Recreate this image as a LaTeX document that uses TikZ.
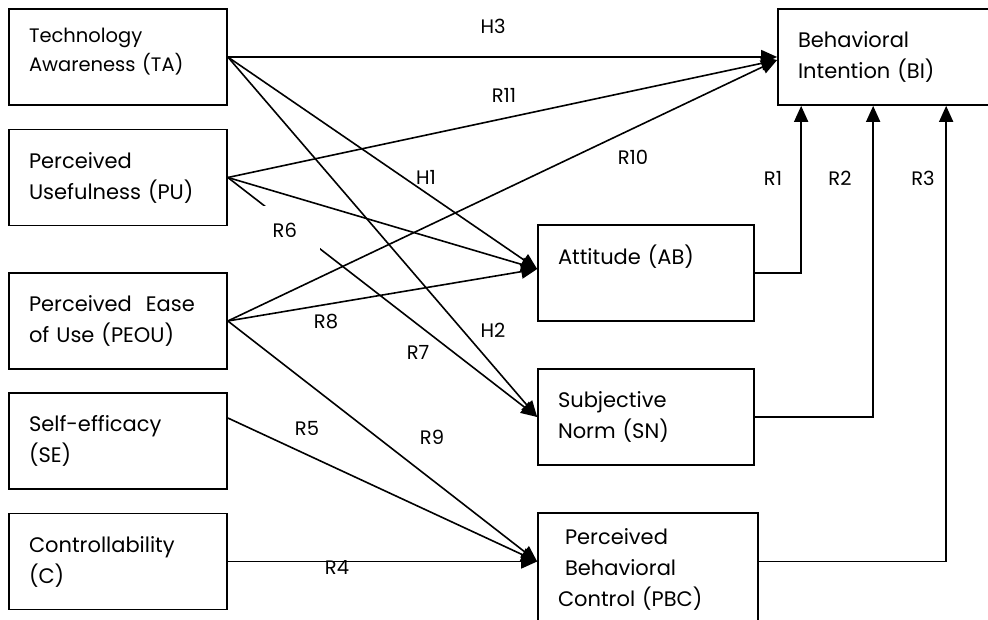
\documentclass[tikz,border=0pt]{standalone}
\usepackage{fontspec}
\setmainfont{Poppins}
\usetikzlibrary{arrows.meta}
\newcommand{\boxfont}{\fontsize{21}{31}\selectfont}
\newcommand{\smallboxfont}{\fontsize{19.5}{28.5}\selectfont}
\newcommand{\pathfont}{\fontsize{19.5}{20}\selectfont}

\begin{document}
\begin{tikzpicture}[x=1pt, y=-1pt,
    construct/.style={draw, line width=1.7pt, minimum width=218pt, minimum height=96pt,
      text width=178pt, inner xsep=20pt, align=left, font=\boxfont},
    arr/.style={line width=1.6pt, -{Triangle[length=16pt, width=14pt]}},
    path label/.style={font=\pathfont, inner sep=1pt}]
  \useasboundingbox (0,0) rectangle (988,620);
  % predictors
  \node[construct, font=\smallboxfont, text depth=43pt] (TA) at (118,57) {Technology\\Awareness (TA)};
  \node[construct] (PU) at (118,177.5) {Perceived\\Usefulness (PU)};
  \node[construct] (PEOU) at (118,321) {Perceived\ \ Ease\\of Use (PEOU)};
  \node[construct] (SE) at (118,441) {Self-efficacy\\(SE)};
  \node[construct] (C) at (118,561.5) {Controllability\\(C)};
  % mediators and outcome
  \node[construct, minimum width=216pt, text width=176pt, text depth=37pt] (AB) at (646,273) {Attitude (AB)};
  \node[construct, minimum width=216pt, text width=176pt] (SN) at (646,417) {Subjective\\Norm (SN)};
  \node[construct, minimum width=220pt, text width=180pt, minimum height=112pt] (PBC) at (648,569)
    {\ Perceived\\ \ Behavioral\\ Control (PBC)};
  \node[construct, minimum width=214pt, text width=174pt] (BI) at (885,57) {Behavioral\\Intention (BI)};
  \coordinate (pin) at (C.east -| PBC.west);
  % paths
  \draw[arr] (TA.east) -- (BI.west);
  \draw[arr] (PU.east) -- ([yshift=-3pt]BI.west);
  \draw[arr] (PEOU.east) -- ([yshift=-3pt]BI.west);
  \draw[arr] (TA.east) -- ([yshift=4pt]AB.west);
  \draw[arr] (PU.east) -- ([yshift=4pt]AB.west);
  \draw[arr] (PEOU.east) -- ([yshift=4pt]AB.west);
  \draw[arr] (TA.east) -- (SN.west);
  \draw[arr] (PU.east) -- node[pos=0.21, xshift=-8pt, yshift=-3pt, fill=white, minimum width=70pt,
    minimum height=50pt, path label] (lR6) {R6} (SN.west);
  \draw[arr] (PEOU.east) -- (pin);
  \draw[arr] ([yshift=23pt]SE.east) -- (pin);
  \draw[arr] (C.east) -- (pin);
  \draw[arr] (AB.east) -| ([xshift=24pt]BI.south west);
  \draw[arr] (SN.east) -| ([xshift=96pt]BI.south west);
  \draw[arr] (PBC.east |- pin) -| ([xshift=169pt]BI.south west);
  % path labels
  \node[path label] (lH3) at (493,26) {H3};
  \node[path label] (lR11) at (504,95) {R11};
  \node[path label] (lH1) at (426,177) {H1};
  \node[path label] (lR10) at (633,157) {R10};
  \node[path label] (lR1) at (773,178) {R1};
  \node[path label] (lR2) at (840,178) {R2};
  \node[path label] (lR3) at (923,178) {R3};
  \node[path label] (lR8) at (326,322) {R8};
  \node[path label] (lH2) at (493,330) {H2};
  \node[path label] (lR7) at (418,352) {R7};
  \node[path label] (lR5) at (307,428) {R5};
  \node[path label] (lR9) at (432,437) {R9};
  \node[path label] (lR4) at (337,568) {R4};
\end{tikzpicture}
\end{document}
